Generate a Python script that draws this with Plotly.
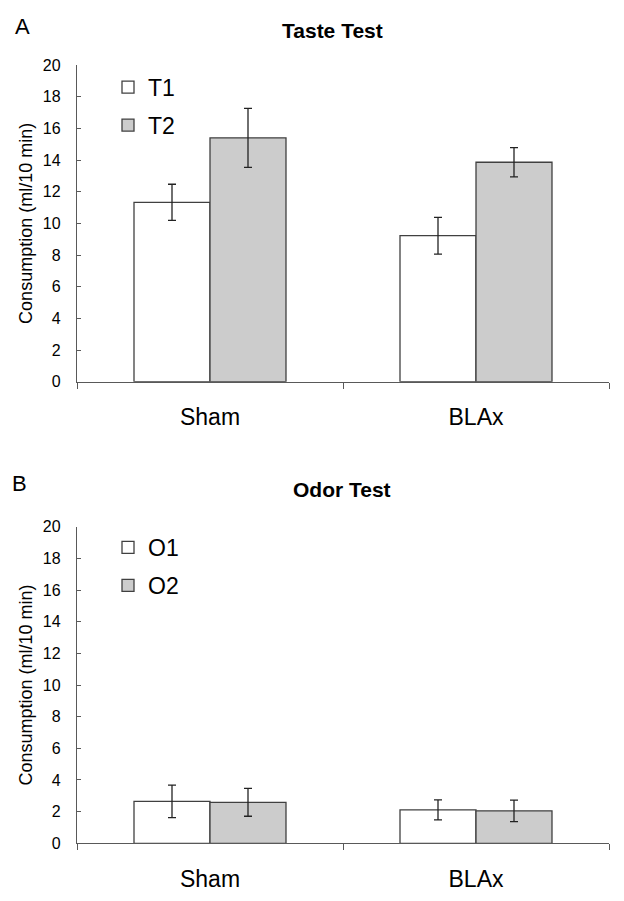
import plotly.graph_objects as go

groups = ["Sham", "BLAx"]

taste_t1 = [11.33, 9.22]
taste_t1_err = [1.14, 1.16]
taste_t2 = [15.4, 13.86]
taste_t2_err = [1.86, 0.92]

odor_o1 = [2.65, 2.11]
odor_o1_err = [1.03, 0.63]
odor_o2 = [2.59, 2.05]
odor_o2_err = [0.88, 0.68]

y_ticks = list(range(0, 21, 2))

WHITE = "#ffffff"
GRAY = "#cccccc"
EDGE = "#404040"
ERR = "#222222"
AXIS = "#595959"
FONT = "Liberation Sans, Arial, sans-serif"

# page body has an 8px default margin; figure is sized/positioned to compensate
OFF = 8
W, H = 608, 885
L = 77 - OFF
PW = 532


def px(xpage):
    return (xpage - OFF - L) / PW


def py(ypage):
    return 1 - (ypage - OFF) / H


fig = go.Figure()


def add_bar(name, y, err, color, xa, ya, legend):
    fig.add_trace(go.Bar(
        x=groups, y=y, name=name,
        marker=dict(color=color, line=dict(color=EDGE, width=1.3)),
        error_y=dict(type="data", array=err, visible=True, color=ERR, thickness=1.3, width=4),
        xaxis=xa, yaxis=ya, legend=legend, legendgroup=name,
    ))


add_bar("T1", taste_t1, taste_t1_err, WHITE, "x", "y", "legend")
add_bar("T2", taste_t2, taste_t2_err, GRAY, "x", "y", "legend")
add_bar("O1", odor_o1, odor_o1_err, WHITE, "x2", "y2", "legend2")
add_bar("O2", odor_o2, odor_o2_err, GRAY, "x2", "y2", "legend2")

xcommon = dict(
    type="category", range=[-0.5, 1.5], tickson="boundaries",
    ticks="outside", ticklen=6, tickcolor=AXIS, showline=True, linecolor=AXIS,
    linewidth=1.3, showgrid=False, zeroline=False,
    tickfont=dict(size=23, color="#000000", family=FONT), ticklabelstandoff=15,
    domain=[0, 1],
)
ycommon = dict(
    range=[0, 20], tickvals=y_ticks, ticks="inside", ticklen=4, tickcolor=AXIS,
    showline=True, linecolor=AXIS, linewidth=1.3, showgrid=False, zeroline=False,
    tickfont=dict(size=16, color="#000000", family=FONT), ticklabelstandoff=12,
    title=dict(text="Consumption (ml/10 min)", font=dict(size=18, color="#000000", family=FONT), standoff=5),
    automargin=False,
)

legend_common = dict(xanchor="left", yanchor="top", yref="paper",
                     font=dict(size=23, family=FONT), tracegroupgap=5,
                     bgcolor="rgba(0,0,0,0)")

fig.update_layout(
    width=W, height=H,
    margin=dict(l=L, r=W - L - PW, t=0, b=0),
    paper_bgcolor="white", plot_bgcolor="white",
    font=dict(family=FONT, color="#000000"),
    barmode="group", bargap=0.4286, bargroupgap=0,
    showlegend=True,
    xaxis=dict(xcommon, anchor="y"),
    yaxis=dict(ycommon, domain=[py(381.7), py(65)], anchor="x"),
    xaxis2=dict(xcommon, anchor="y2"),
    yaxis2=dict(ycommon, domain=[py(843.3), py(526.7)], anchor="x2"),
    legend=dict(legend_common, x=px(108), y=py(86.7 - 21)),
    legend2=dict(legend_common, x=px(108), y=py(547 - 21)),
    annotations=[
        dict(text="<b>Taste Test</b>", x=px(332), y=py(31), xref="paper", yref="paper",
             showarrow=False, font=dict(size=21, family=FONT), xanchor="center", yanchor="middle"),
        dict(text="<b>Odor Test</b>", x=px(342), y=py(489), xref="paper", yref="paper",
             showarrow=False, font=dict(size=21, family=FONT), xanchor="center", yanchor="middle"),
        dict(text="A", x=px(22), y=py(27), xref="paper", yref="paper",
             showarrow=False, font=dict(size=22, family=FONT), xanchor="center", yanchor="middle"),
        dict(text="B", x=px(19), y=py(483), xref="paper", yref="paper",
             showarrow=False, font=dict(size=22, family=FONT), xanchor="center", yanchor="middle"),
    ],
)

fig.write_html("out.html")
